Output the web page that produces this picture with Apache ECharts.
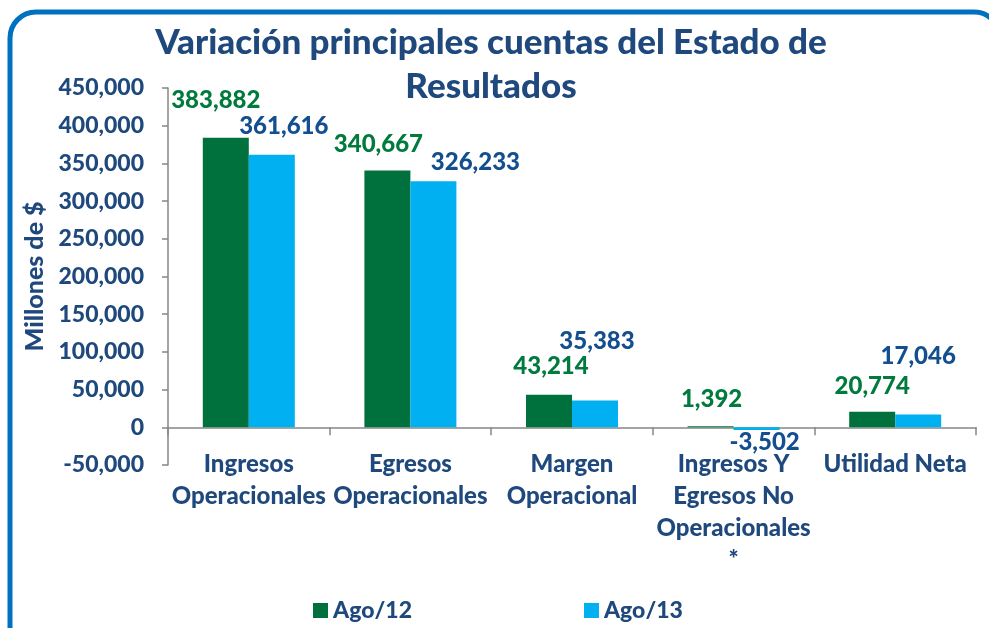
<!DOCTYPE html>
<html>
<head>
<meta charset="utf-8">
<script src="https://cdn.jsdelivr.net/npm/echarts@6/dist/echarts.min.js"></script>
<style>html,body{margin:0;padding:0;background:#fff}#c{width:989px;height:628px}</style>
</head>
<body>
<div id="c"></div>
<script>
var categories = ['Ingresos\nOperacionales', 'Egresos\nOperacionales', 'Margen\nOperacional', 'Ingresos Y\nEgresos No\nOperacionales\n*', 'Utilidad Neta'];
var ago12 = [383882, 340667, 43214, 1392, 20774];
var ago13 = [361616, 326233, 35383, -3502, 17046];
var seriesNames = ['Ago/12', 'Ago/13'];
var yTicks = { min: -50000, max: 450000, interval: 50000 };

// label nudges (styling only)
var nudge12 = [[-10, -21], [-9, -9], [2, -11], [1, -10], [0, -8]];
var nudge13 = [[12, -11], [42, -2], [2, -42], [8, -5], [0, -41]];

var navy = '#1F497D';
var FONT = 'Lato';
var W = 900;
function fmt(v) { return v.toLocaleString('en-US'); }

function build(vals, nudges) {
  return vals.map(function (v, i) {
    return {
      value: v,
      label: {
        position: v < 0 ? 'bottom' : 'top',
        offset: nudges[i]
      }
    };
  });
}

var chart = echarts.init(document.getElementById('c'), null, { renderer: 'canvas' });
chart.setOption({
  backgroundColor: '#ffffff',
  animation: false,
  textStyle: { fontFamily: FONT },
  title: {
    text: 'Variación principales cuentas del Estado de\nResultados',
    left: 486, textAlign: 'center', top: 16,
    textStyle: { color: navy, fontFamily: FONT, fontWeight: W, fontSize: 35, lineHeight: 44 }
  },
  graphic: [{
    type: 'rect', shape: { x: 10, y: 12, width: 990, height: 640, r: 26 },
    style: { fill: 'none', stroke: '#0070C0', lineWidth: 5 }, silent: true, z: -1
  }],
  legend: {
    left: 308, top: 594, itemWidth: 15, itemHeight: 15, itemGap: 172,
    icon: 'rect',
    textStyle: { color: navy, fontFamily: FONT, fontWeight: W, fontSize: 23 },
    data: seriesNames
  },
  grid: { left: 168, right: 13, top: 88, bottom: 163, containLabel: false },
  xAxis: {
    type: 'category', data: categories,
    axisLine: { onZero: true, lineStyle: { color: '#868686', width: 1.5 } },
    axisTick: { show: true, length: 8, alignWithLabel: false, lineStyle: { color: '#868686', width: 1.5 } },
    axisLabel: { interval: 0, color: navy, fontFamily: FONT, fontWeight: W, fontSize: 24, lineHeight: 32, margin: -17 }
  },
  yAxis: {
    type: 'value', min: yTicks.min, max: yTicks.max, interval: yTicks.interval,
    name: 'Millones de $', nameLocation: 'middle', nameGap: 121, nameRotate: 90,
    nameTextStyle: { color: navy, fontFamily: FONT, fontWeight: W, fontSize: 25 },
    axisLine: { show: true, lineStyle: { color: '#868686', width: 1.5 } },
    axisTick: { show: true, inside: false, length: 6, lineStyle: { color: '#868686', width: 1.5 } },
    splitLine: { show: false },
    axisLabel: { color: navy, fontFamily: FONT, fontWeight: W, fontSize: 23, margin: 24, formatter: fmt }
  },
  series: [{
    name: seriesNames[0], type: 'bar', data: build(ago12, nudge12),
    barWidth: 46, barGap: '0%',
    itemStyle: { color: '#00703C' },
    label: { show: true, distance: 5, color: '#007A3D', fontFamily: FONT, fontWeight: W, fontSize: 24, formatter: function (p) { return fmt(p.value); } }
  }, {
    name: seriesNames[1], type: 'bar', data: build(ago13, nudge13),
    barWidth: 46, barGap: '0%',
    itemStyle: { color: '#00B0F0' },
    label: { show: true, distance: 5, color: '#134F8F', fontFamily: FONT, fontWeight: W, fontSize: 24, formatter: function (p) { return fmt(p.value); } }
  }]
});
</script>
</body>
</html>
